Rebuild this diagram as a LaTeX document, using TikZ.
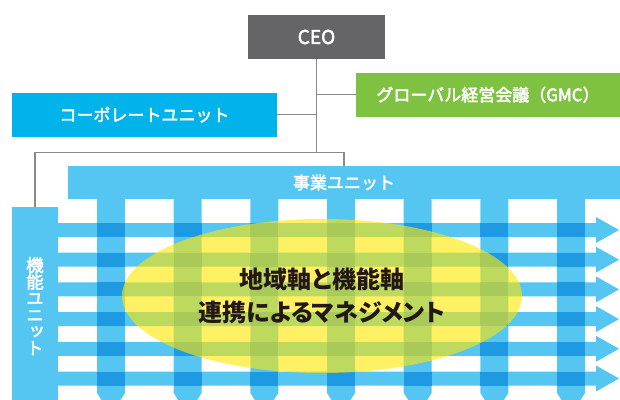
\documentclass[tikz,border=0pt]{standalone}
\usepackage{fontspec}
\newfontfamily\jp[FakeBold=2.6]{Noto Sans CJK JP}
\newfontfamily\jpv[RawFeature=+vert,FakeBold=2.6]{Noto Sans CJK JP}
\newfontfamily\jpp[RawFeature=+palt]{Noto Sans CJK JP}
\definecolor{ceogray}{HTML}{656567}
\definecolor{corpblue}{HTML}{00B4EB}
\definecolor{gmcgreen}{HTML}{7FC241}
\definecolor{band}{HTML}{55C6F1}
\definecolor{banddark}{HTML}{1E9AE3}
\definecolor{linegray}{HTML}{8A8A8A}
\definecolor{ell}{RGB}{255,231,5}
\definecolor{txtdark}{HTML}{231815}
\tikzset{
  box/.style={rectangle, inner sep=0pt, text=white, font=\jp\fontsize{17}{20}\selectfont},
  conn/.style={draw=linegray, line width=1.2pt},
  bandfill/.style={fill=band},
  crossfill/.style={fill=banddark},
}
\begin{document}
\begin{tikzpicture}[x=1pt,y=-1pt]
\clip (0,0) rectangle (620,399);
% vertical bands
\foreach \i in {0,...,6}{
  \pgfmathsetmacro\cx{111+76.67*\i}
  \fill[bandfill] (\cx-14,190) -- (\cx+14,190) -- (\cx+14,393) -- (\cx,415) -- (\cx-14,393) -- cycle;
}
% horizontal arrows
\foreach \j in {0,...,5}{
  \pgfmathsetmacro\cy{230+29.7*\j}
  \fill[bandfill] (50,\cy-7) -- (596,\cy-7) -- (596,\cy-13) -- (619,\cy) -- (596,\cy+13) -- (596,\cy+7) -- (50,\cy+7) -- cycle;
}
% crossings
\foreach \i in {0,...,6}{
  \foreach \j in {0,...,5}{
    \pgfmathsetmacro\cx{111+76.67*\i}
    \pgfmathsetmacro\cy{230+29.7*\j}
    \fill[crossfill] (\cx-14,\cy-7) rectangle (\cx+14,\cy+7);
  }
}
% ellipse
\fill[ell, fill opacity=0.62] (322,296) ellipse [x radius=200, y radius=77];
% boxes
\node[box, fill=ceogray, minimum width=137, minimum height=44, font=\jp\fontsize{19}{20}\selectfont] (ceo) at (316.5,37) {CEO};
\node[box, fill=corpblue, minimum width=265, minimum height=44] (corp) at (144.5,114.7) {コーポレートユニット};
\node[box, fill=gmcgreen, minimum width=264, minimum height=44] (gmc) at (488,94.7) {グローバル経営会議（GMC）};
\node[box, fill=band, minimum width=552, minimum height=33] (jigyo) at (344,182.5) {事業ユニット};
\node[box, fill=band, minimum width=46, minimum height=198, align=center, font=\jpv\fontsize{17.5}{16.6}\selectfont] (kino) at (35,306) {機\\能\\ユ\\ニ\\ッ\\ト};
% center text
\node[align=center, text=txtdark, font=\jpp\bfseries\fontsize{24}{33}\selectfont] (center) at (322,296) {地域軸と機能軸\\連携によるマネジメント};
% connectors
\coordinate (j) at (316.5,152.7);
\draw[conn] (ceo.south) -- (j);
\draw[conn] (kino.north) |- (j) -| (jigyo.north);
\draw[conn] (corp.east) -- (corp.east -| j);
\draw[conn] (gmc.west) -- (gmc.west -| j);
\end{tikzpicture}
\end{document}
